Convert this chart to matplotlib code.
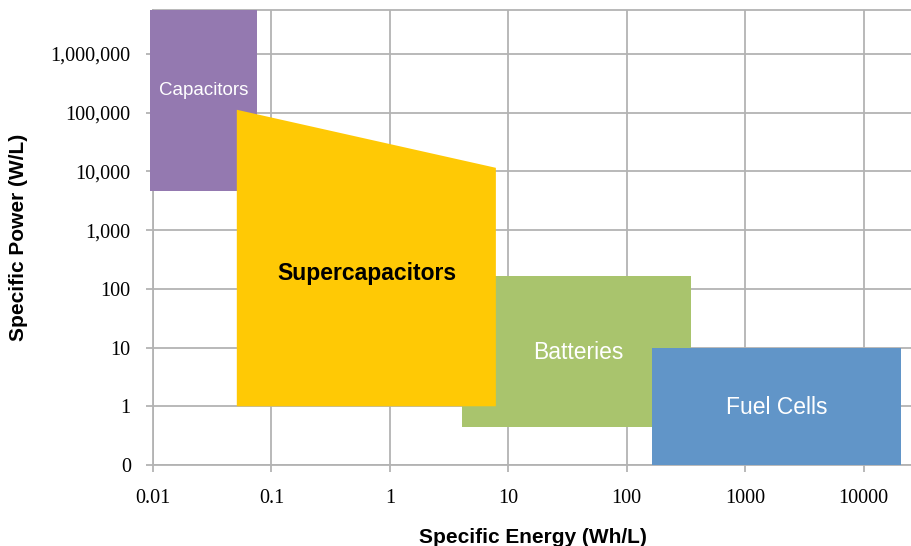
import matplotlib.pyplot as plt
from matplotlib.patches import Polygon
from matplotlib.ticker import FixedLocator, NullLocator

# Ragone chart data (Wh/L, W/L)
tech_names = ["Capacitors", "Batteries", "Fuel Cells", "Supercapacitors"]
tech_colors = ["#9479b0", "#a9c46d", "#6195c8", "#ffc905"]
cap_energy = [0.0094, 0.076]
cap_power = [4660, 5.6e6]
bat_energy = [4.1, 350]
bat_power = [0.44, 166]
fuel_energy = [164, 20800]
fuel_power = [0.1, 10]
# supercapacitors: sloped top edge
sc_energy = [0.051, 7.85, 7.85, 0.051]
sc_power = [112000, 11500, 1.0, 1.0]

x_ticks = [0.01, 0.1, 1, 10, 100, 1000, 10000]
x_labels = ["0.01", "0.1", "1", "10", "100", "1000", "10000"]
y_ticks = [0.1, 1, 10, 100, 1000, 10000, 100000, 1000000]
y_labels = ["0", "1", "10", "100", "1,000", "10,000", "100,000", "1,000,000"]

grid_col = "#b3b3b3"

fig = plt.figure(figsize=(9.12, 5.46), dpi=100)
ax = fig.add_axes([153 / 912, 1 - 465 / 546, 1 - 153 / 912, 455 / 546])
ax.set_xscale("log")
ax.set_yscale("log")
ax.set_xlim(0.01, 25600)
ax.set_ylim(0.1, 5.6e6)


def rect(xs, ys, color, z):
    pts = [(xs[0], ys[0]), (xs[1], ys[0]), (xs[1], ys[1]), (xs[0], ys[1])]
    ax.add_patch(Polygon(pts, closed=True, facecolor=color, edgecolor="none",
                         zorder=z, clip_on=False))


rect(cap_energy, cap_power, tech_colors[0], 3)
rect(bat_energy, bat_power, tech_colors[1], 4)
rect(fuel_energy, fuel_power, tech_colors[2], 5)
ax.add_patch(Polygon(list(zip(sc_energy, sc_power)), closed=True,
                     facecolor=tech_colors[3], edgecolor="none", zorder=6))

# labels
ax.text(0.0267, 234000, "Capacitors", color="white", fontsize=13.5,
        family="Liberation Sans", ha="center", va="center", zorder=7)
ax.text(0.64, 180, "Supercapacitors", color="black", fontsize=16.5,
        fontweight="bold", family="Liberation Sans", ha="center", va="center", zorder=7)
ax.text(38.7, 8.1, "Batteries", color="white", fontsize=16.5,
        family="Liberation Sans", ha="center", va="center", zorder=7)
ax.text(1860, 0.97, "Fuel Cells", color="white", fontsize=16.5,
        family="Liberation Sans", ha="center", va="center", zorder=7)

ax.xaxis.set_major_locator(FixedLocator(x_ticks))
ax.xaxis.set_minor_locator(NullLocator())
ax.set_xticklabels(x_labels)
ax.yaxis.set_major_locator(FixedLocator(y_ticks))
ax.yaxis.set_minor_locator(NullLocator())
ax.set_yticklabels(y_labels)

ax.grid(True, color=grid_col, linewidth=1.3, zorder=0)
ax.set_axisbelow(True)
for s in ["left", "bottom", "top"]:
    ax.spines[s].set_color(grid_col)
    ax.spines[s].set_linewidth(1.3)
ax.spines["right"].set_visible(False)

ax.tick_params(axis="both", color=grid_col, width=1.3, length=5,
               labelsize=14.5, labelfontfamily="Liberation Serif")
ax.tick_params(axis="x", pad=12)
ax.tick_params(axis="y", pad=11)

ax.set_xlabel("Specific Energy (Wh/L)", fontsize=15, fontweight="bold",
              family="Liberation Sans", labelpad=15)
ax.set_ylabel("Specific Power (W/L)", fontsize=15, fontweight="bold",
              family="Liberation Sans", labelpad=16)

plt.savefig("out.png")
